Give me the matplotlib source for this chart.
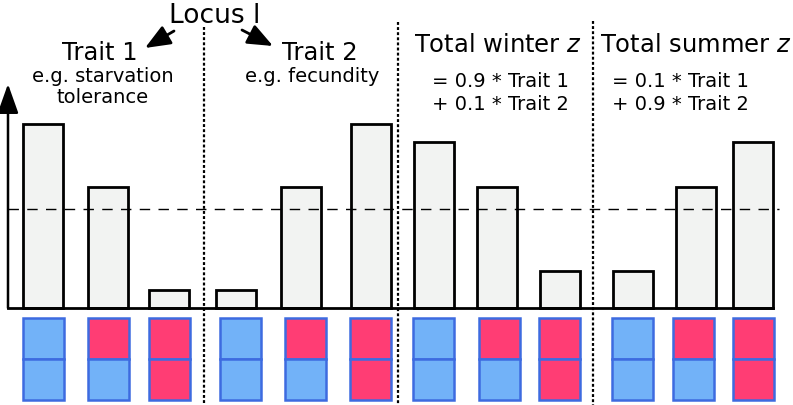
import matplotlib.pyplot as plt
from matplotlib.patches import Rectangle

# 値（基準線からの高さ、Trait 1 の最大値を 1 とする）
trait1 = [1.0, 0.66, 0.10]
trait2 = [0.10, 0.66, 1.0]
winter = [0.90, 0.66, 0.20]
summer = [0.20, 0.66, 0.90]
mean_level = 0.54

# 遺伝子型（上・下のアレル）
genotypes = [('b', 'b'), ('r', 'b'), ('r', 'r')]

# ラベル
titles = ['Trait 1', 'Trait 2', 'Total winter $z$', 'Total summer $z$']
subtitles = ['e.g. starvation\ntolerance', 'e.g. fecundity']
formulas = ['= 0.9 * Trait 1\n+ 0.1 * Trait 2', '= 0.1 * Trait 1\n+ 0.9 * Trait 2']

# レイアウト（ピクセル）
W, H = 793, 406
base_px = 309
unit_px = 184
bar_x = [[43, 108, 168.5], [236, 300.5, 371], [434, 497, 560], [633, 696, 753]]
tile_x = [[23, 88, 149], [220, 285, 350], [413, 479, 539], [612, 673, 733]]
bar_w = 40
tile_w = 41
divider_x = [204, 398, 593]
divider_top = [28, 23, 22]
title_pos = [(100, 53), (320, 53), (498, 45), (696, 45)]

colors = {'b': '#72b2f8', 'r': '#ff3d74'}
edge_blue = '#3d6be0'
bar_fill = '#f2f3f2'

fig = plt.figure(figsize=(W / 100, H / 100), dpi=100)

# 棒グラフ用の軸（基準線 = 0）
ax = fig.add_axes([0, (H - base_px) / H, 1, unit_px / H])
ax.set_xlim(0, W)
ax.set_ylim(0, 1)
ax.axis('off')

for xs, vals in zip(bar_x, [trait1, trait2, winter, summer]):
    ax.bar(xs, vals, width=bar_w, color=bar_fill, edgecolor='black',
           linewidth=2.0, clip_on=False, zorder=2)

# 平均線
ax.plot([8, 779], [mean_level, mean_level], color='black', lw=1.0,
        dashes=(7.5, 6), clip_on=False, zorder=3)
# 基準線
ax.plot([8, 773], [0, 0], color='black', lw=2.0, clip_on=False, zorder=4)
# 縦軸の矢印
ax.annotate('', xy=(8, (base_px - 85) / unit_px), xytext=(8, 0),
            arrowprops=dict(arrowstyle='-|>,head_length=0.9,head_width=0.32',
                            color='black', lw=1.8, mutation_scale=20,
                            shrinkA=0, shrinkB=0),
            annotation_clip=False)

# ピクセル座標の重ね合わせ軸
ov = fig.add_axes([0, 0, 1, 1])
ov.set_xlim(0, W)
ov.set_ylim(H, 0)
ov.axis('off')
ov.patch.set_alpha(0)

# タイル
for xs in tile_x:
    for x, (top, bot) in zip(xs, genotypes):
        ov.add_patch(Rectangle((x, 319), tile_w, 41, facecolor=colors[top],
                               edgecolor=edge_blue, lw=1.8))
        ov.add_patch(Rectangle((x, 360), tile_w, 41, facecolor=colors[bot],
                               edgecolor=edge_blue, lw=1.8))

# 区切り線
for x, t in zip(divider_x, divider_top):
    ov.plot([x, x], [t, H], color='black', lw=1.6, dashes=(1.3, 1.0),
            zorder=5)

# テキスト
ov.text(215, 16, 'Locus l', fontsize=19, ha='center', va='center')
for (x, y), t in zip(title_pos, titles):
    ov.text(x, y, t, fontsize=17.5, ha='center', va='center')
ov.text(103, 87, subtitles[0], fontsize=14, ha='center', va='center',
        linespacing=1.15)
ov.text(312, 76, subtitles[1], fontsize=14, ha='center', va='center')
ov.text(432, 93, formulas[0], fontsize=14, ha='left', va='center',
        linespacing=1.3)
ov.text(612, 93, formulas[1], fontsize=14, ha='left', va='center',
        linespacing=1.3)

# Locus から Trait への矢印
for tail, head in [((174, 32), (145, 49)), ((242, 31), (273, 47))]:
    ov.annotate('', xy=head, xytext=tail,
                arrowprops=dict(arrowstyle='-|>,head_length=1.1,head_width=0.45',
                                color='black', lw=2.0, mutation_scale=14,
                                shrinkA=0, shrinkB=0))

fig.savefig('out.png', dpi=100)
